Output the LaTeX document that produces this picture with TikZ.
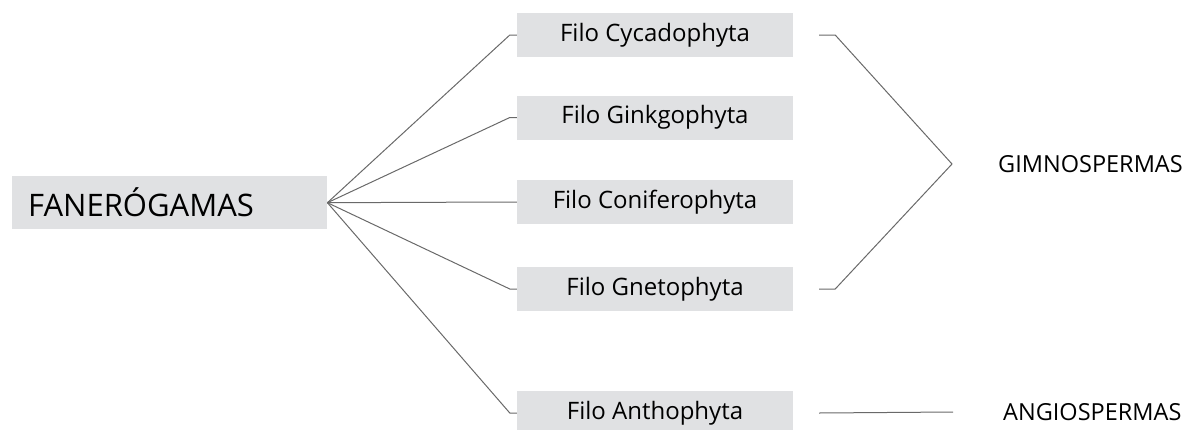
\documentclass[tikz,border=0pt]{standalone}
\usepackage{fontspec}
\setmainfont{Open Sans}
\usetikzlibrary{positioning}
\definecolor{boxgray}{RGB}{224,225,227}
\definecolor{linegray}{RGB}{105,105,105}
\tikzset{
  filo/.style={rectangle,fill=boxgray,minimum width=276pt,minimum height=44pt,inner sep=0pt,font=\fontsize{24}{28}\selectfont},
  ramo/.style={draw=linegray,line width=1pt},
  grupo/.style={inner sep=0pt,anchor=west,font=\fontsize{23.5}{27}\selectfont}
}

\begin{document}
\begin{tikzpicture}[x=1pt,y=-1pt]
	\useasboundingbox (0,0) rectangle (1189,429);
	\path (12,176) node(fan)[rectangle,fill=boxgray,anchor=north west,text width=283pt,inner xsep=16pt,inner ysep=0pt,minimum height=53pt,align=left,font=\fontsize{31}{35}\selectfont]{FANERÓGAMAS}
		(655,35) node(cyc)[filo]{Filo Cycadophyta}
		(655,117.5) node(gin)[filo]{Filo Ginkgophyta}
		(655,202) node(con)[filo]{Filo Coniferophyta}
		(655,289) node(gne)[filo]{Filo Gnetophyta}
		(655,413) node(ant)[filo]{Filo Anthophyta}
		(998,164) node(gim)[grupo]{GIMNOSPERMAS}
		(1003,412) node(ang)[grupo]{ANGIOSPERMAS};
	\coordinate (o) at (fan.east);
	\coordinate (vertice) at (952,164);
	% ramos do leque
	\foreach \f in {cyc,gin,con,gne,ant}
		\draw[ramo] (o) -- ([xshift=-7pt]\f.west) -- (\f.west);
	% chave e linha final
	\draw[ramo] ([xshift=26pt]cyc.east) -- ([xshift=42pt]cyc.east) -- (vertice) -- ([xshift=42pt]gne.east) -- ([xshift=26pt]gne.east);
	\draw[ramo] ([xshift=26pt]ant.east) -- ([xshift=-50pt]ang.west);
\end{tikzpicture}
\end{document}
